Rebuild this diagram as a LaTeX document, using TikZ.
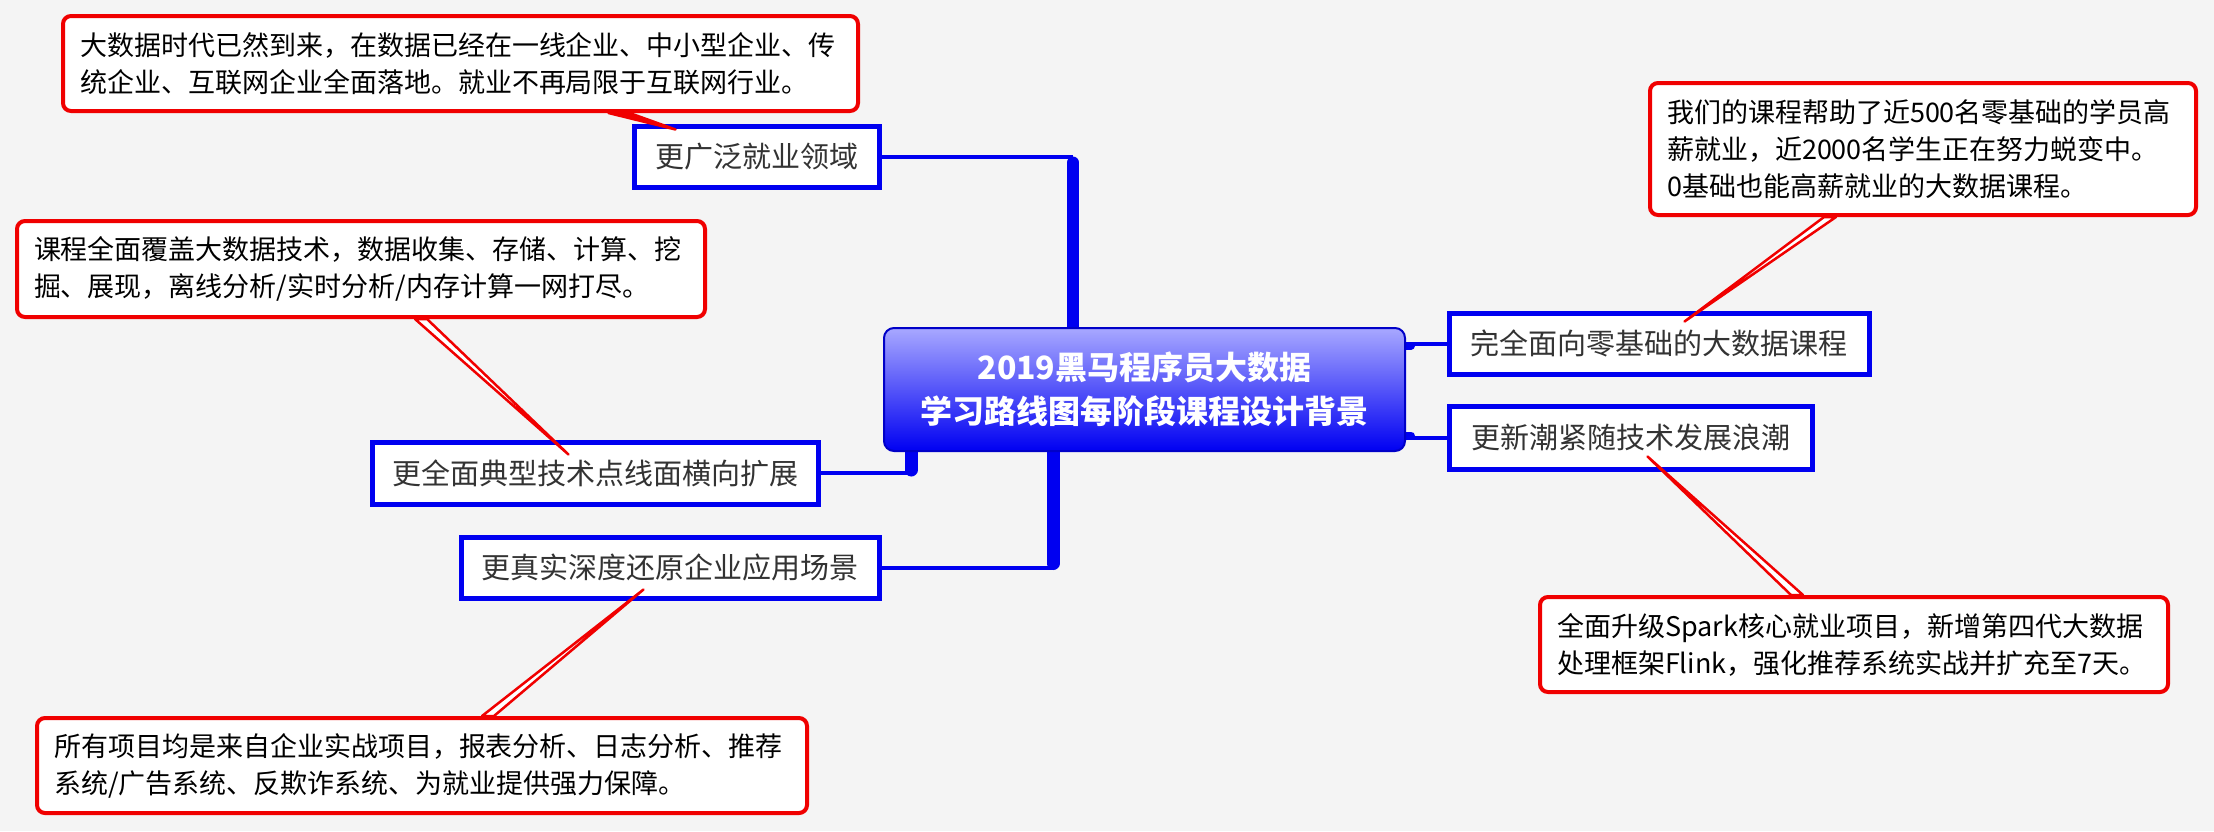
\documentclass[tikz,border=0pt]{standalone}
\usepackage{fontspec}
\newfontfamily\cjk{Noto Sans CJK SC}
\usetikzlibrary{backgrounds,calc}
\definecolor{bg}{HTML}{F4F4F4}
\definecolor{bluel}{HTML}{0000F0}
\definecolor{redl}{HTML}{F00000}
\definecolor{txt}{HTML}{333333}
\definecolor{ctop}{HTML}{A8A8FF}
\definecolor{cbot}{HTML}{0000F2}
\definecolor{cedge}{HTML}{0000C8}
\begin{document}
\begin{tikzpicture}[x=1pt,y=-1pt,
  redbox/.style={draw=redl, line width=4pt, fill=white, rounded corners=8pt,
    align=left, font=\cjk\fontsize{27}{37}\selectfont, text=black,
    inner xsep=17pt, inner ysep=0pt},
  bluebox/.style={draw=bluel, line width=5pt, fill=white,
    font=\cjk\fontsize{29}{35}\selectfont, text=txt, inner sep=0pt, minimum height=61pt},
  central/.style={draw=cedge, line width=2pt, rounded corners=10pt,
    top color=ctop, bottom color=cbot, align=center, text=white,
    font=\cjk\bfseries\fontsize{32}{44}\selectfont, inner sep=0pt,
    minimum width=521pt, minimum height=123pt},
  thinc/.style={draw=bluel, line width=4pt},
  thickc/.style={draw=bluel, line width=#1, line cap=round},
  callout/.style={draw=redl, fill=white, line width=2.5pt, line join=round}
]
\useasboundingbox (0,0) rectangle (2214,831);

% central node
\node[central] (cen) at (1144.5,389.5) {2019黑马程序员大数据\\学习路线图每阶段课程设计背景};

% topic boxes
\node[bluebox, minimum width=245pt] (b1) at (756.5,156.5) {更广泛就业领域};
\node[bluebox, minimum width=446pt, minimum height=62pt] (b2) at (595,473) {更全面典型技术点线面横向扩展};
\node[bluebox, minimum width=418pt] (b3) at (670,567.5) {更真实深度还原企业应用场景};
\node[bluebox, minimum width=420pt] (b4) at (1659,343.5) {完全面向零基础的大数据课程};
\node[bluebox, minimum width=363pt, minimum height=63pt] (b5) at (1630.5,437.5) {更新潮紧随技术发展浪潮};

% note boxes
\node[redbox, text width=761pt, minimum height=95pt] (r1) at (460.5,63.5)
  {大数据时代已然到来，在数据已经在一线企业、中小型企业、传\\统企业、互联网企业全面落地。就业不再局限于互联网行业。};
\node[redbox, text width=654pt, minimum height=96pt] (r2) at (361,269)
  {课程全面覆盖大数据技术，数据收集、存储、计算、挖\\掘、展现，离线分析/实时分析/内存计算一网打尽。};
\node[redbox, text width=736pt, minimum height=95pt] (r3) at (422,765.5)
  {所有项目均是来自企业实战项目，报表分析、日志分析、推荐\\系统/广告系统、反欺诈系统、为就业提供强力保障。};
\node[redbox, text width=512pt, minimum height=132pt] (r4) at (1923,149)
  {我们的课程帮助了近500名零基础的学员高\\薪就业，近2000名学生正在努力蜕变中。\\0基础也能高薪就业的大数据课程。};
\node[redbox, text width=594pt, minimum height=95pt] (r5) at (1854,644.5)
  {全面升级Spark核心就业项目，新增第四代大数据\\处理框架Flink，强化推荐系统实战并扩充至7天。};

% trunk points
\coordinate (tu) at ($(cen.north west)+(190,0)$);
\coordinate (tl) at ($(cen.south west)+(170,0)$);
\coordinate (tm) at ($(cen.south west)+(28,0)$);

\begin{scope}[on background layer]
  \fill[bg] (0,0) rectangle (2214,831);
  % upper trunk
  \draw[thinc] (b1.east) -- (b1.east -| tu);
  \draw[thickc=12pt] ($(tu)+(0,8)$) -- ($(tu |- b1.east)+(0,6)$);
  % lower trunk
  \draw[thinc] (b3.east) -- (b3.east -| tl);
  \draw[thickc=13pt] ($(tl)+(0,-8)$) -- ($(tl |- b3.east)+(0,-4)$);
  % middle-left stub
  \draw[thinc] (b2.east) -- (b2.east -| tm);
  \draw[thickc=13pt] ($(tm)+(0,-8)$) -- ($(tm |- b2.east)+(0,-3)$);
  % right branches
  \draw[thinc] ($(cen.east |- b4.west)+(-6,0)$) -- (b4.west);
  \draw[thickc=8pt] ($(cen.east |- b4.west)+(-4,2)$) -- ++(9,0);
  \draw[thinc] ($(cen.east |- b5.west)+(-6,0)$) -- (b5.west);
  \draw[thickc=8pt] ($(cen.east |- b5.west)+(-4,-2)$) -- ++(9,0);
\end{scope}

% callouts
\draw[callout, fill=redl] ($(r1.south)+(148,0)$) -- ($(b1.north west)+(44,6)$) -- ($(r1.south)+(169,0)$) -- cycle;
\draw[callout] ($(r2.south)+(54,0)$) -- ($(b2.north west)+(199,15)$) -- ($(r2.south)+(66,0)$) -- cycle;
\draw[callout] ($(r3.north)+(60,0)$) -- ($(b3.south west)+(185,-11)$) -- ($(r3.north)+(72,0)$) -- cycle;
\draw[callout] ($(r4.south)+(-99,0)$) -- ($(b4.north west)+(238,11)$) -- ($(r4.south)+(-87,0)$) -- cycle;
\draw[callout] ($(r5.north)+(-63,0)$) -- ($(b5.south west)+(201,-15)$) -- ($(r5.north)+(-51,0)$) -- cycle;
\end{tikzpicture}
\end{document}
